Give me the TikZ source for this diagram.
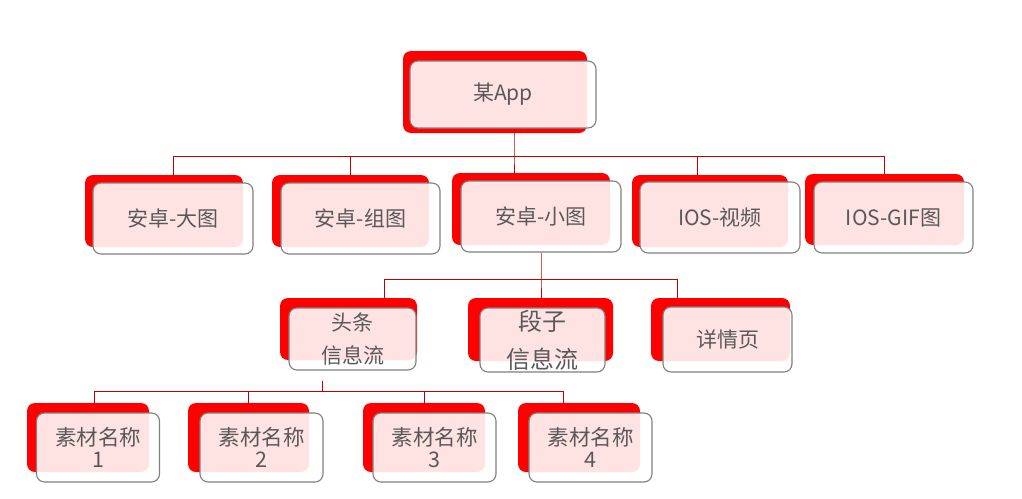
\documentclass[tikz,border=0pt]{standalone}
\usepackage{fontspec}
\setmainfont{Noto Sans CJK SC}
\usepackage{tikz}
\usetikzlibrary{positioning}
\tikzstyle{back}=[fill=red,rounded corners=8pt,inner sep=0pt]
\tikzstyle{card}=[draw=black!50,line width=1.1pt,fill=white,fill opacity=0.89,text opacity=1,rounded corners=8pt,inner sep=0pt,text=black!65,align=center]
\tikzstyle{link}=[draw,red!75!black,line width=0.9pt]

\begin{document}
\begin{tikzpicture}[x=1pt,y=-1pt]
\useasboundingbox (0,0) rectangle (1022,498);

%red backs
  \foreach \pos/\w/\h/\name in {{(495,92)/184pt/82pt/app}, {(164,211)/158pt/72pt/a1}, {(350.5,211)/157pt/72pt/a2}, {(531,209)/158pt/72pt/a3}, {(710,211)/156pt/72pt/a4}, {(884.5,209.5)/159pt/71pt/a5},
      {(348.5,329)/137pt/62pt/b1}, {(540.5,329.5)/145pt/63pt/b2}, {(720.5,329.5)/139pt/63pt/b3},
      {(88,437.5)/122pt/69pt/c1}, {(248.5,437.5)/121pt/69pt/c2}, {(424,437.5)/122pt/69pt/c3}, {(579,437.5)/122pt/69pt/c4}}
        \node[back,minimum width=\w,minimum height=\h] (\name-bk) at \pos {};

%cards
  \foreach \pos/\w/\h/\name/\label in {{(503,94.5)/186pt/67pt/app/某App}, {(173,218.5)/160pt/71pt/a1/安卓-大图}, {(360.5,218.5)/159pt/71pt/a2/安卓-组图}, {(541,216.5)/160pt/71pt/a3/安卓-小图}, {(720,217.5)/160pt/71pt/a4/IOS-视频}, {(893.5,217.5)/159pt/71pt/a5/IOS-GIF图}}
        \node[card,minimum width=\w,minimum height=\h,font=\fontsize{21}{24}\selectfont] (\name) at \pos {\label};

  \foreach \pos/\w/\h/\name/\label in {{(352.5,339)/127pt/62pt/b1/头条\\信息流}, {(727.5,339.5)/129pt/65pt/b3/详情页}}
        \node[card,minimum width=\w,minimum height=\h,font=\fontsize{21}{33}\selectfont] (\name) at \pos {\label};
  \node[card,minimum width=125pt,minimum height=64pt,font=\fontsize{24}{38}\selectfont] (b2) at (542.5,340) {段子\\信息流};

  \foreach \pos/\name/\label in {{(98,447.5)/c1/1}, {(261.5,447.5)/c2/2}, {(434.5,447.5)/c3/3}, {(590.5,447.5)/c4/4}}
        \node[card,minimum width=123pt,minimum height=69pt,font=\fontsize{21.5}{22}\selectfont] (\name) at \pos {素材名称\\\label};

% Connect levels
  \coordinate (bus1) at ([xshift=11pt,yshift=-28pt]app.south);
  \path[link] ([xshift=11pt]app.south) -- (bus1) -- (bus1 |- a3-bk.north);
  \foreach \name/\dx in {a1/9, a2/0, a4/-13, a5/0}
        \path[link] ([xshift=\dx pt]\name-bk.north) |- (bus1);

  \coordinate (bus2) at ([yshift=-27pt]a3.south);
  \path[link] (a3.south) -- (bus2) -- (bus2 |- b2-bk.north);
  \foreach \name/\dx in {b1/36, b3/-43}
        \path[link] ([xshift=\dx pt]\name-bk.north) |- (bus2);

  \coordinate (bus3) at ([xshift=-30pt,yshift=-21pt]b1.south);
  \path[link] ([xshift=-30pt,yshift=-10pt]b1.south) -- (bus3);
  \foreach \name/\dx in {c1/6, c2/0, c3/0, c4/-16}
        \path[link] ([xshift=\dx pt]\name-bk.north) |- (bus3);

\end{tikzpicture}
\end{document}
